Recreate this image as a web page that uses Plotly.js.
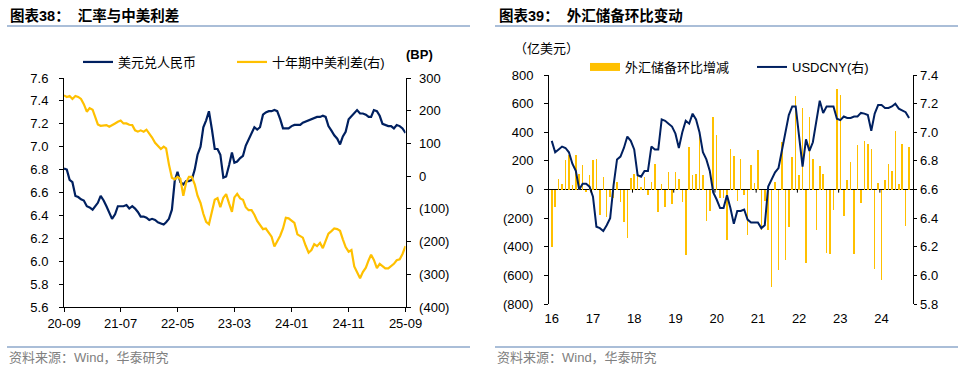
<!DOCTYPE html>
<html><head><meta charset="utf-8">
<script src="https://cdn.plot.ly/plotly-3.0.1.min.js"></script>
<style>html,body{margin:0;padding:0;background:#fff}#chart{width:965px;height:369px}</style>
</head><body><div id="chart"></div><script>
// ---------------- Chart 38 data (half-monthly samples, 2020-09 .. 2025-09) ----------------
const usdCnyDaily = [
6.81,6.80,6.71,6.69,6.57,6.56,6.54,6.53,6.48,6.47,
6.45,6.48,6.51,6.57,6.53,6.48,6.42,6.37,6.41,6.48,
6.48,6.48,6.49,6.46,6.48,6.46,6.43,6.39,6.39,6.38,
6.36,6.37,6.36,6.34,6.33,6.32,6.34,6.37,6.45,6.70,
6.78,6.69,6.67,6.70,6.70,6.71,6.80,6.93,7.00,7.17,
7.23,7.31,7.15,6.98,6.98,6.93,6.73,6.74,6.84,6.95,
6.86,6.87,6.90,6.92,7.01,7.06,7.11,7.17,7.15,7.17,
7.28,7.30,7.31,7.31,7.32,7.31,7.24,7.16,7.16,7.16,
7.18,7.19,7.19,7.19,7.21,7.22,7.23,7.24,7.25,7.26,
7.26,7.27,7.26,7.18,7.14,7.10,7.07,7.02,7.09,7.13,
7.24,7.27,7.29,7.32,7.29,7.29,7.28,7.26,7.26,7.32,
7.31,7.27,7.20,7.19,7.18,7.18,7.16,7.19,7.18,7.16,
7.12];
const cnUsSpread10y = [
247,242,245,236,245,242,236,220,197,208,
203,175,158,154,156,156,151,155,161,166,
170,161,161,157,156,140,136,140,136,142,
131,118,102,92,83,90,85,36,-5,-10,
-2,-8,-60,-20,-2,-2,-25,-60,-82,-115,
-140,-147,-104,-72,-67,-95,-66,-55,-84,-109,
-65,-54,-68,-72,-95,-104,-104,-118,-137,-150,
-162,-160,-172,-185,-215,-201,-182,-160,-127,-129,
-137,-143,-178,-183,-188,-212,-234,-226,-208,-214,
-204,-220,-198,-176,-168,-160,-162,-167,-193,-217,
-231,-226,-276,-295,-312,-293,-280,-257,-240,-256,
-281,-268,-276,-282,-282,-275,-268,-257,-254,-238,
-214];
const leftTickVals = ['2020-09-01','2021-07-01','2022-05-01','2023-03-01','2024-01-01','2024-11-01','2025-09-01'];
const leftTickText = ['20-09','21-07','22-05','23-03','24-01','24-11','25-09'];
const leftYTicks = [7.6,7.4,7.2,7.0,6.8,6.6,6.4,6.2,6.0,5.8,5.6];
const spreadTickVals = [300,200,100,0,-100,-200,-300,-400];
const spreadTickText = ['300','200','100','0','(100)','(200)','(300)','(400)'];

// ---------------- Chart 39 data (monthly) ----------------
const fxReserveChange = [
-400,-120,70,35,205,240,30,240,105,170,
-15,100,205,215,-180,85,-190,-50,-60,55,
-85,-230,-340,80,105,95,20,85,-40,55,
180,-155,35,-120,125,-100,120,75,-90,-460,
300,100,105,400,100,-220,-150,505,380,-60,
-60,-350,280,235,-80,215,-40,-320,170,45,
275,-280,-80,-285,-680,50,-565,330,-490,-260,
230,650,100,570,-515,505,210,-280,165,110,
-445,-450,-140,705,660,-185,65,195,-450,310,
-95,340,315,280,-555,45,-635,65,180,130,
410,35,320,-255,300];
const usdCnyMonthly = [
6.94,6.86,6.88,6.90,6.89,6.86,6.78,6.73,6.60,6.64,
6.64,6.62,6.55,6.34,6.33,6.31,6.35,6.40,6.63,6.81,
6.83,6.89,6.97,6.94,6.88,6.70,6.69,6.73,6.73,6.90,
6.88,6.88,7.09,7.08,7.06,7.04,6.99,6.89,7.00,7.08,
7.06,7.13,7.09,7.00,6.86,6.81,6.73,6.58,6.53,6.47,
6.47,6.56,6.47,6.36,6.45,6.45,6.46,6.39,6.37,6.37,
6.37,6.33,6.35,6.62,6.67,6.72,6.75,6.88,7.00,7.12,
7.18,7.18,6.97,6.76,6.95,6.87,6.93,7.08,7.22,7.135,
7.18,7.18,7.18,7.095,7.085,7.11,7.10,7.10,7.11,7.11,
7.135,7.13,7.12,7.01,7.13,7.19,7.19,7.17,7.17,7.18,
7.20,7.165,7.155,7.14,7.10];
const rightTickText = ['16','17','18','19','20','21','22','23','24'];
const fxTickVals = [800,600,400,200,0,-200,-400,-600,-800];
const fxTickText = ['800','600','400','200','0','(200)','(400)','(600)','(800)'];
const cnyTicks = [7.4,7.2,7.0,6.8,6.6,6.4,6.2,6.0,5.8];

// ---------------- build x values ----------------
const leftDates = usdCnyDaily.map((_, k) => {
  const mIdx = 8 + Math.floor(k / 2);
  const y = 2020 + Math.floor(mIdx / 12), m = (mIdx % 12) + 1;
  return y + '-' + String(m).padStart(2, '0') + '-' + (k % 2 ? '16' : '01');
});
const monthIdx = fxReserveChange.map((_, i) => i);
const rightTickVals = rightTickText.map((_, k) => k * 12);
const zeroTickVals = rightTickText.map((_, k) => 11.5 + k * 12);

// ---------------- layout helpers ----------------
const W = 965, H = 369;
const fx = p => p / W, fy = p => 1 - p / H;
const NAVY = '#002060', GOLD = '#FFC000';
const LAT = 'Liberation Sans, Arial, Noto Sans CJK SC, sans-serif';
const CJK = 'Liberation Sans, Noto Sans CJK SC, sans-serif';
const SP = '\u00a0\u00a0';
const axisBase = {showgrid:false, zeroline:false, showline:true, linecolor:'#000', linewidth:1,
  ticks:'outside', ticklen:4, tickcolor:'#000', tickfont:{family:LAT, size:13, color:'#000'}, fixedrange:true};
const legendAt = (px, py) => ({x:fx(px), y:fy(py), xanchor:'left', yanchor:'middle', bgcolor:'rgba(0,0,0,0)',
  orientation:'h', font:{family:CJK, size:13, color:'#000'}});

const traces = [
  {type:'scatter', mode:'lines', x:leftDates, y:usdCnyDaily, name:'美元兑人民币',
   line:{color:NAVY, width:2.2}, xaxis:'x', yaxis:'y', legend:'legend'},
  {type:'scatter', mode:'lines', x:leftDates, y:cnUsSpread10y, name:'十年期中美利差(右)',
   line:{color:GOLD, width:2.2}, xaxis:'x', yaxis:'y2', legend:'legend3'},
  {type:'bar', x:monthIdx, y:fxReserveChange, name:'外汇储备环比增减', width:0.45,
   marker:{color:GOLD, line:{width:0}}, xaxis:'x2', yaxis:'y3', showlegend:false},
  {type:'scatter', mode:'lines', x:[null], y:[null], name:'外汇储备环比增减',
   line:{color:GOLD, width:8}, xaxis:'x2', yaxis:'y3', legend:'legend2', hoverinfo:'skip'},
  {type:'scatter', mode:'lines', x:monthIdx, y:usdCnyMonthly, name:'USDCNY(右)',
   line:{color:NAVY, width:2}, xaxis:'x2', yaxis:'y4', legend:'legend4'}
];

const yDomL = [fy(307), fy(78)];
const yDomR = [fy(304), fy(75)];

const shapes = [
  {type:'line', xref:'paper', yref:'paper', x0:fx(7), x1:fx(470), y0:fy(26), y1:fy(26), line:{color:'#8EA9CB', width:1.5}},
  {type:'line', xref:'paper', yref:'paper', x0:fx(495), x1:fx(958), y0:fy(26), y1:fy(26), line:{color:'#8EA9CB', width:1.5}},
  {type:'line', xref:'paper', yref:'paper', x0:fx(7), x1:fx(470), y0:fy(347), y1:fy(347), line:{color:'#8EA9CB', width:1.5}},
  {type:'line', xref:'paper', yref:'paper', x0:fx(495), x1:fx(958), y0:fy(347), y1:fy(347), line:{color:'#8EA9CB', width:1.5}}
].concat(zeroTickVals.map(t => ({type:'line', xref:'x2', yref:'y3', x0:t, x1:t, y0:0, y1:-22, line:{color:'#000', width:1}})));

const annotations = [
  {text:'<b>图表38：' + SP + '汇率与中美利差</b>', x:fx(8), y:fy(15), xref:'paper', yref:'paper', xanchor:'left', yanchor:'middle', showarrow:false, font:{family:CJK, size:14.5, color:'#000'}},
  {text:'<b>图表39：' + SP + '外汇储备环比变动</b>', x:fx(497), y:fy(15), xref:'paper', yref:'paper', xanchor:'left', yanchor:'middle', showarrow:false, font:{family:CJK, size:14.5, color:'#000'}},
  {text:'资料来源：Wind，华泰研究', x:fx(7), y:fy(357), xref:'paper', yref:'paper', xanchor:'left', yanchor:'middle', showarrow:false, font:{family:CJK, size:13, color:'#808080'}},
  {text:'资料来源：Wind，华泰研究', x:fx(495), y:fy(357), xref:'paper', yref:'paper', xanchor:'left', yanchor:'middle', showarrow:false, font:{family:CJK, size:13, color:'#808080'}},
  {text:'<b>(BP)</b>', x:fx(404), y:fy(54), xref:'paper', yref:'paper', xanchor:'left', yanchor:'middle', showarrow:false, font:{family:LAT, size:13, color:'#000'}},
  {text:'（亿美元）', x:fx(512), y:fy(49), xref:'paper', yref:'paper', xanchor:'left', yanchor:'middle', showarrow:false, font:{family:CJK, size:13, color:'#000'}}
];

const layout = {
  width:W, height:H, margin:{l:0, r:0, t:0, b:0}, paper_bgcolor:'#fff', plot_bgcolor:'rgba(0,0,0,0)',
  showlegend:true, font:{family:LAT, size:13, color:'#000'},
  xaxis: Object.assign({}, axisBase, {domain:[fx(64), fx(405.5)], anchor:'y', type:'date',
    range:['2020-09-01','2025-09-01'], tickmode:'array', tickvals:leftTickVals, ticktext:leftTickText, ticklabelstandoff:0}),
  yaxis: Object.assign({}, axisBase, {domain:yDomL, anchor:'x', range:[5.6, 7.6], tickmode:'array',
    tickvals:leftYTicks, tickformat:'.1f', ticklabelstandoff:8}),
  yaxis2: Object.assign({}, axisBase, {domain:yDomL, anchor:'x', overlaying:'y', side:'right', range:[-400, 300],
    tickmode:'array', tickvals:spreadTickVals, ticktext:spreadTickText, ticklabelstandoff:6}),
  xaxis2: Object.assign({}, axisBase, {domain:[fx(549), fx(912.5)], anchor:'y3', range:[-0.8, 105.0],
    showline:false, ticks:'', tickmode:'array', tickvals:rightTickVals, ticktext:rightTickText, ticklabelstandoff:5}),
  yaxis3: Object.assign({}, axisBase, {domain:yDomR, anchor:'x2', range:[-800, 800], tickmode:'array',
    tickvals:fxTickVals, ticktext:fxTickText, ticklabelstandoff:8, zeroline:true, zerolinecolor:'#000', zerolinewidth:1}),
  yaxis4: Object.assign({}, axisBase, {domain:yDomR, anchor:'x2', overlaying:'y3', side:'right', range:[5.8, 7.4],
    tickmode:'array', tickvals:cnyTicks, tickformat:'.1f', ticklen:3, ticklabelstandoff:1}),
  legend: legendAt(78, 62),
  legend3: legendAt(232, 62),
  legend2: legendAt(585, 67),
  legend4: legendAt(752, 67),
  barmode:'overlay', bargap:0,
  shapes:shapes, annotations:annotations
};

Plotly.newPlot('chart', traces, layout, {staticPlot:true, displayModeBar:false});
</script></body></html>
